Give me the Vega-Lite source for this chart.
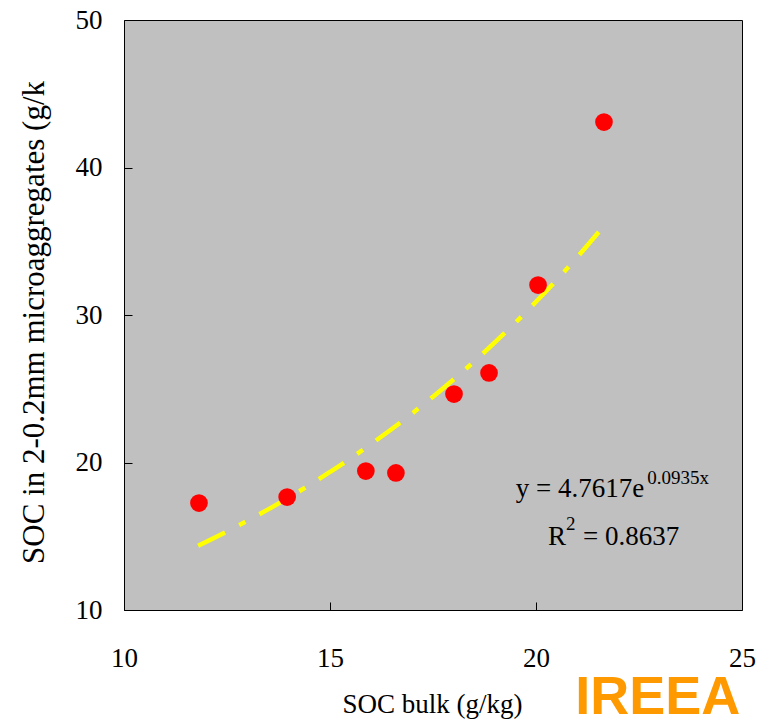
{
  "$schema": "https://vega.github.io/schema/vega-lite/v6.json",
  "width": 618,
  "height": 590,
  "autosize": {"type": "none"},
  "padding": {"left": 124, "top": 20, "right": 26, "bottom": 110},
  "background": "#FFFFFF",
  "config": {
    "view": {"fill": "#C0C0C0", "stroke": "#000000", "strokeWidth": 1},
    "axis": {
      "grid": false,
      "domain": false,
      "labelFlush": false,
      "labelFont": "Liberation Serif",
      "labelFontSize": 27,
      "labelColor": "#000000",
      "tickColor": "#000000",
      "tickWidth": 1,
      "tickSize": -8,
      "titleFont": "Liberation Serif",
      "titleFontWeight": "normal",
      "titleColor": "#000000"
    }
  },
  "datasets": {
    "pts": [
      {"soc_bulk": 11.82, "soc_micro": 17.25},
      {"soc_bulk": 13.96, "soc_micro": 17.66},
      {"soc_bulk": 15.87, "soc_micro": 19.42},
      {"soc_bulk": 16.6, "soc_micro": 19.29},
      {"soc_bulk": 18.01, "soc_micro": 24.64},
      {"soc_bulk": 18.86, "soc_micro": 26.07},
      {"soc_bulk": 20.05, "soc_micro": 32.03},
      {"soc_bulk": 21.65, "soc_micro": 43.08}
    ],
    "fit": [
      {"soc_bulk": 11.8, "soc_micro": 14.35},
      {"soc_bulk": 12.5, "soc_micro": 15.32},
      {"soc_bulk": 13.0, "soc_micro": 16.06},
      {"soc_bulk": 13.5, "soc_micro": 16.82},
      {"soc_bulk": 14.0, "soc_micro": 17.63},
      {"soc_bulk": 14.5, "soc_micro": 18.47},
      {"soc_bulk": 15.0, "soc_micro": 19.36},
      {"soc_bulk": 15.5, "soc_micro": 20.28},
      {"soc_bulk": 16.0, "soc_micro": 21.26},
      {"soc_bulk": 16.5, "soc_micro": 22.27},
      {"soc_bulk": 17.0, "soc_micro": 23.34},
      {"soc_bulk": 17.5, "soc_micro": 24.46},
      {"soc_bulk": 18.0, "soc_micro": 25.63},
      {"soc_bulk": 18.5, "soc_micro": 26.85},
      {"soc_bulk": 19.0, "soc_micro": 28.14},
      {"soc_bulk": 19.5, "soc_micro": 29.48},
      {"soc_bulk": 20.0, "soc_micro": 30.90},
      {"soc_bulk": 20.5, "soc_micro": 32.37},
      {"soc_bulk": 21.0, "soc_micro": 33.92},
      {"soc_bulk": 21.7, "soc_micro": 36.22}
    ],
    "eq": [
      {"soc_bulk": 19.51, "soc_micro": 17.66, "label": "y = 4.7617e"},
      {"soc_bulk": 20.29, "soc_micro": 14.41, "label": "R"},
      {"soc_bulk": 21.14, "soc_micro": 14.41, "label": "= 0.8637"}
    ],
    "sup": [
      {"soc_bulk": 22.7, "soc_micro": 18.54, "label": "0.0935x"},
      {"soc_bulk": 20.73, "soc_micro": 15.42, "label": "2"}
    ],
    "wm": [
      {"soc_bulk": 20.95, "soc_micro": 2.95, "label": "IREEA"}
    ]
  },
  "layer": [
    {
      "data": {"name": "fit"},
      "mark": {"type": "line", "color": "#FFFF00", "strokeWidth": 4.5, "strokeDash": [30, 16, 7, 16], "interpolate": "monotone"},
      "encoding": {
        "x": {
          "field": "soc_bulk", "type": "quantitative",
          "scale": {"domain": [10, 25], "nice": false, "zero": false},
          "axis": {
            "values": [10, 15, 20, 25],
            "labelPadding": 43,
            "title": "SOC bulk (g/kg)",
            "titleFontSize": 27,
            "titleAnchor": "start",
            "titleAlign": "center",
            "titleBaseline": "alphabetic",
            "titleX": 308,
            "titleY": 102
          }
        },
        "y": {
          "field": "soc_micro", "type": "quantitative",
          "scale": {"domain": [10, 50], "nice": false, "zero": false},
          "axis": {
            "values": [10, 20, 30, 40, 50],
            "labelPadding": 30,
            "title": "SOC in 2-0.2mm microaggregates (g/k",
            "titleFontSize": 31,
            "titleAngle": -90,
            "titleAlign": "center",
            "titleBaseline": "alphabetic",
            "titleX": -81,
            "titleY": 302
          }
        }
      }
    },
    {
      "data": {"name": "pts"},
      "mark": {"type": "circle", "color": "#FF0000", "opacity": 1, "size": 314},
      "encoding": {
        "x": {"field": "soc_bulk", "type": "quantitative"},
        "y": {"field": "soc_micro", "type": "quantitative"}
      }
    },
    {
      "data": {"name": "eq"},
      "mark": {"type": "text", "font": "Liberation Serif", "fontSize": 27, "align": "left", "baseline": "alphabetic", "color": "#000000"},
      "encoding": {
        "x": {"field": "soc_bulk", "type": "quantitative"},
        "y": {"field": "soc_micro", "type": "quantitative"},
        "text": {"field": "label"}
      }
    },
    {
      "data": {"name": "sup"},
      "mark": {"type": "text", "font": "Liberation Serif", "fontSize": 19, "align": "left", "baseline": "alphabetic", "color": "#000000"},
      "encoding": {
        "x": {"field": "soc_bulk", "type": "quantitative"},
        "y": {"field": "soc_micro", "type": "quantitative"},
        "text": {"field": "label"}
      }
    },
    {
      "data": {"name": "wm"},
      "mark": {"type": "text", "font": "Liberation Sans", "fontSize": 54, "fontWeight": "bold", "align": "left", "baseline": "alphabetic", "color": "#FF9900"},
      "encoding": {
        "x": {"field": "soc_bulk", "type": "quantitative"},
        "y": {"field": "soc_micro", "type": "quantitative"},
        "text": {"field": "label"}
      }
    }
  ]
}
